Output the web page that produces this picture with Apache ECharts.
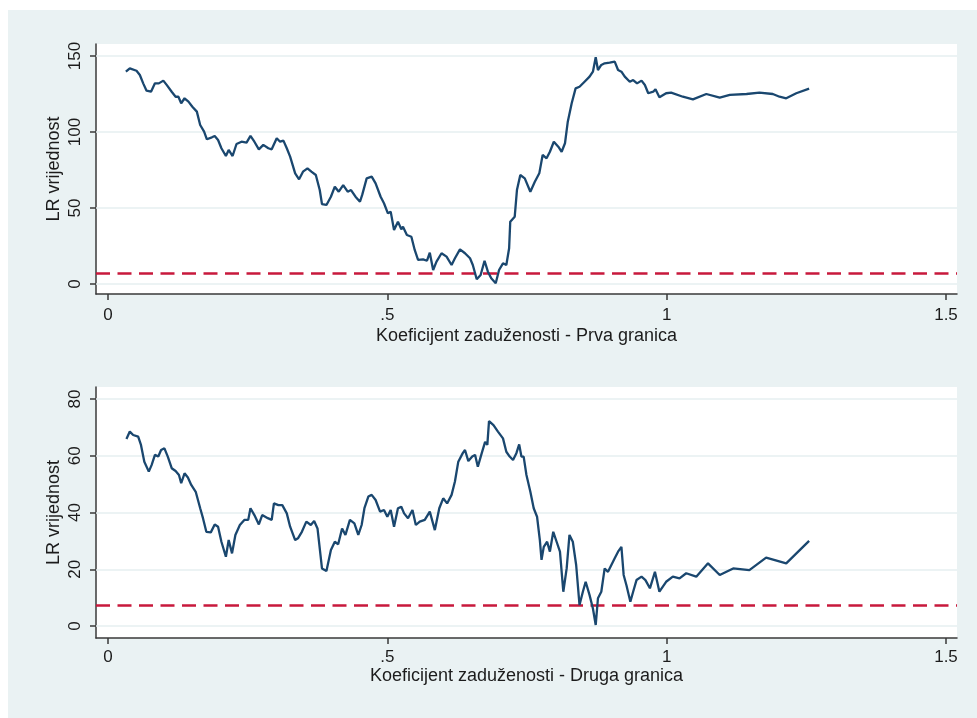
<!DOCTYPE html>
<html>
<head>
<meta charset="utf-8">
<script src="https://cdn.jsdelivr.net/npm/echarts@6/dist/echarts.min.js"></script>
<style>
  html, body { margin: 0; padding: 0; background: #ffffff; }
  #bg { position: absolute; left: 8px; top: 10px; width: 969px; height: 708px; background: #eaf2f3; }
  #main { position: absolute; left: 0; top: 0; width: 977px; height: 718px; }
</style>
</head>
<body>
<div id="bg"></div>
<div id="main"></div>
<script>
// ---- Data ----
const topX = [0.032,0.039,0.051,0.057,0.063,0.069,0.077,0.084,0.091,0.099,0.105,0.114,0.121,0.126,0.131,0.137,0.144,0.151,0.159,0.165,0.172,0.177,0.186,0.191,0.197,0.203,0.211,0.216,0.223,0.230,0.239,0.248,0.255,0.262,0.270,0.278,0.287,0.293,0.302,0.308,0.314,0.320,0.326,0.335,0.342,0.349,0.357,0.364,0.372,0.375,0.379,0.383,0.391,0.399,0.406,0.413,0.421,0.429,0.435,0.443,0.451,0.455,0.463,0.472,0.479,0.488,0.494,0.501,0.506,0.512,0.519,0.525,0.528,0.535,0.543,0.549,0.555,0.564,0.571,0.576,0.582,0.588,0.597,0.606,0.615,0.621,0.630,0.639,0.648,0.653,0.660,0.667,0.674,0.680,0.686,0.694,0.700,0.707,0.713,0.718,0.720,0.728,0.732,0.738,0.746,0.756,0.764,0.772,0.778,0.785,0.791,0.798,0.806,0.812,0.818,0.823,0.830,0.837,0.844,0.853,0.862,0.868,0.873,0.877,0.883,0.889,0.898,0.907,0.913,0.919,0.925,0.934,0.940,0.947,0.955,0.961,0.967,0.976,0.980,0.987,0.999,1.008,1.029,1.047,1.071,1.095,1.113,1.143,1.166,1.190,1.202,1.214,1.232,1.255];
const topY = [139.7,141.9,140.3,137.5,132,127.2,126.5,132,132,133.8,131,126.5,123.2,123.2,118.9,122.2,120,116.6,113.4,104.6,100.2,95.2,96.5,97.4,94.7,89.3,84.2,88.2,84.2,92.1,93.6,93,97.4,93.6,88.6,91.5,89.3,88.6,95.9,93.6,94.3,89.3,83.8,72.8,68.9,73.9,76.1,73.9,71.7,72.8,61.8,52.6,52,57.4,64,60.7,65.1,60.7,61.8,57.4,54.1,58.6,69.5,70.6,66.2,57.4,53.1,46.5,47.6,35.5,41,36,37.7,32.2,31.1,22.4,15.8,16.2,15.3,20.6,9.2,14.7,20.2,18,12.5,16.9,22.8,20.2,16.9,12.5,3.1,5.9,15.3,8.1,3.7,0.5,9.2,13.6,12.5,23.5,41,44.3,61.8,71.7,69.5,60.7,67.3,72.8,84.9,82.7,87,93.6,90.3,87,92.6,106.8,118.9,128.7,129.8,133.1,136.4,139.7,149.2,140.8,144.1,145.2,145.6,146.3,140.8,139.7,136.4,133.1,134.2,132,133.8,130.9,125.5,126.5,128.1,122.8,125.5,125.9,123.2,121.5,125,122.6,124.4,125,125.9,125,123.2,122.2,125.5,128.5];

const botX = [0.033,0.039,0.045,0.054,0.059,0.065,0.073,0.078,0.084,0.090,0.095,0.101,0.107,0.114,0.121,0.127,0.131,0.137,0.143,0.149,0.157,0.165,0.170,0.176,0.184,0.191,0.197,0.203,0.211,0.216,0.222,0.228,0.236,0.244,0.251,0.255,0.262,0.270,0.276,0.286,0.293,0.297,0.305,0.312,0.320,0.326,0.335,0.340,0.347,0.355,0.363,0.369,0.375,0.379,0.383,0.391,0.399,0.406,0.412,0.419,0.425,0.433,0.441,0.448,0.454,0.459,0.466,0.472,0.479,0.487,0.494,0.500,0.506,0.512,0.519,0.525,0.530,0.537,0.545,0.551,0.558,0.567,0.576,0.585,0.593,0.600,0.607,0.615,0.621,0.627,0.635,0.639,0.645,0.652,0.657,0.662,0.669,0.675,0.679,0.682,0.690,0.698,0.707,0.713,0.719,0.725,0.731,0.736,0.740,0.744,0.749,0.756,0.762,0.768,0.773,0.776,0.780,0.786,0.791,0.797,0.803,0.809,0.815,0.821,0.826,0.832,0.838,0.844,0.850,0.855,0.862,0.868,0.873,0.877,0.883,0.889,0.895,0.901,0.907,0.913,0.919,0.923,0.928,0.935,0.940,0.946,0.955,0.962,0.970,0.979,0.987,0.999,1.011,1.023,1.035,1.053,1.074,1.095,1.119,1.148,1.178,1.214,1.255];
const botY = [65.9,68.5,67.3,66.7,63.8,57.9,54.4,56.7,60.3,59.7,62,62.6,59.7,55.6,54.6,53.2,50.3,53.8,52.3,49.7,47.3,41.5,38,33.2,33,35.8,35,29.7,24.4,30.3,25.6,32.1,35.6,37.4,37.4,41.5,39.1,35.8,39.1,38,37.4,43.2,42.6,42.6,39.7,35,30.3,30.9,33.2,36.8,35.6,37,34.4,27.4,20.3,19.4,26.8,29.7,28.8,34.4,32.1,37.4,36.2,32.1,35.6,41.5,45.6,46.2,44.4,40.3,40.9,38.5,40.9,35,41.5,42,39.7,38,40.9,35.6,36.8,37.4,40.3,33.8,41.5,45,43.2,46.2,50.9,57.9,60.9,62,58.1,59.7,60.3,56.1,60.9,64.9,63.8,72.2,70.8,68.5,66.1,61.4,59.7,58.5,60.9,64,59.7,59.7,53.2,47.3,41.5,38.5,30.3,23.3,27.9,29.7,26.2,33.2,29.7,26.2,12.1,20.3,32.1,29.7,21.5,7.4,12.1,15.6,10.9,6.2,0.4,9.8,12.1,20.3,19.1,21.5,23.9,26.2,27.9,18,14.4,8.6,12.1,16.2,17.4,16.2,13.3,19.1,12.1,15.6,17.4,16.8,18.6,17.4,22.1,18,20.3,19.7,24.1,22.1,30];

const threshold = 7.35;
const xTicks = [0, 0.5, 1, 1.5];
const xTickLabels = ['0', '.5', '1', '1.5'];
const topYTicks = [0, 50, 100, 150];
const botYTicks = [0, 20, 40, 60, 80];
const yTitle = 'LR vrijednost';
const topXTitle = 'Koeficijent zaduženosti - Prva granica';
const botXTitle = 'Koeficijent zaduženosti - Druga granica';

// ---- Styles ----
const FONT = '"Liberation Sans", Arial, sans-serif';
const TXT = '#1c1c1c';
const AXIS = '#3a3a3a';
const NAVY = '#1a476f';
const RED = '#c8193c';
const GRIDC = '#e6eff0';

function zip(xs, ys) { return xs.map((x, i) => [x, ys[i]]); }

function xAxisDef(gridIndex, title, labelMargin, nameGap) {
  return {
    type: 'value', gridIndex,
    min: -0.0215, max: 1.5197,
    name: title, nameLocation: 'middle', nameGap, nameMoveOverlap: false,
    nameTextStyle: { fontFamily: FONT, fontSize: 18, color: TXT },
    axisLine: { show: true, onZero: false, lineStyle: { color: AXIS, width: 1.5 } },
    axisTick: { show: true, length: 6, customValues: xTicks, lineStyle: { color: AXIS, width: 1.5 } },
    axisLabel: {
      show: true, customValues: xTicks, margin: labelMargin,
      fontFamily: FONT, fontSize: 17, color: TXT,
      formatter: v => { const i = xTicks.findIndex(t => Math.abs(t - v) < 1e-9); return i >= 0 ? xTickLabels[i] : ''; }
    },
    splitLine: { show: false }
  };
}
function yAxisDef(gridIndex, ticks, min, max) {
  return {
    type: 'value', gridIndex, min, max,
    name: yTitle, nameLocation: 'middle', nameGap: 33, nameRotate: 90, nameMoveOverlap: false,
    nameTextStyle: { fontFamily: FONT, fontSize: 18, color: TXT },
    axisLine: { show: true, onZero: false, lineStyle: { color: AXIS, width: 1.5 } },
    axisTick: { show: true, length: 6, customValues: ticks, lineStyle: { color: AXIS, width: 1.5 } },
    axisLabel: { show: true, customValues: ticks, rotate: 90, margin: 12, fontFamily: FONT, fontSize: 17, color: TXT },
    splitLine: { show: false }
  };
}
function gridLines(xi, yi, ticks) {
  return {
    type: 'line', xAxisIndex: xi, yAxisIndex: yi, data: [], z: 1, silent: true,
    markLine: {
      z: 1, silent: true, symbol: 'none', animation: false, label: { show: false },
      lineStyle: { color: GRIDC, width: 1.5, type: 'solid' },
      data: ticks.map(t => ({ yAxis: t }))
    }
  };
}
function dataLine(xi, yi, xs, ys) {
  return {
    type: 'line', xAxisIndex: xi, yAxisIndex: yi, data: zip(xs, ys), z: 3,
    showSymbol: false, symbol: 'none', animation: false,
    lineStyle: { color: NAVY, width: 2.3 }
  };
}
function threshLine(xi, yi) {
  return {
    type: 'line', xAxisIndex: xi, yAxisIndex: yi, data: [], z: 2, silent: true,
    markLine: {
      z: 2, silent: true, symbol: 'none', animation: false, label: { show: false },
      lineStyle: { color: RED, width: 2.6, type: [14, 7.5] },
      data: [{ yAxis: threshold }]
    }
  };
}

const chart = echarts.init(document.getElementById('main'), null, { renderer: 'canvas' });
chart.setOption({
  backgroundColor: 'transparent',
  animation: false,
  grid: [
    { left: 96, right: 20, top: 44, height: 250, show: true, backgroundColor: '#ffffff', borderWidth: 0, containLabel: false, outerBoundsMode: 'none' },
    { left: 96, right: 20, top: 387, height: 251, show: true, backgroundColor: '#ffffff', borderWidth: 0, containLabel: false, outerBoundsMode: 'none' }
  ],
  xAxis: [ xAxisDef(0, topXTitle, 13, 33), xAxisDef(1, botXTitle, 11, 29) ],
  yAxis: [ yAxisDef(0, topYTicks, -6.6, 157.9), yAxisDef(1, botYTicks, -4.2, 84.2) ],
  series: [
    gridLines(0, 0, topYTicks), threshLine(0, 0), dataLine(0, 0, topX, topY),
    gridLines(1, 1, botYTicks), threshLine(1, 1), dataLine(1, 1, botX, botY)
  ]
});
</script>
</body>
</html>
